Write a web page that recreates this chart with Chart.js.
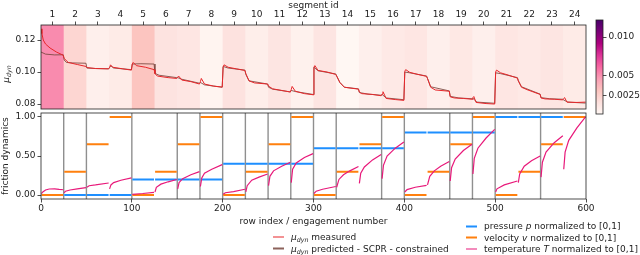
<!DOCTYPE html>
<html>
<head>
<meta charset="utf-8">
<script src="https://cdn.jsdelivr.net/npm/chart.js@4/dist/chart.umd.min.js"></script>
<style>
body { margin: 0; width: 640px; height: 255px; background: #fff; position: relative; overflow: hidden; font-family: "DejaVu Sans", sans-serif; font-size: 9px; color: #222; }
canvas { position: absolute; }
.t { position: absolute; white-space: nowrap; line-height: 1; }
.lg { position: absolute; display: flex; align-items: center; white-space: nowrap; transform: translateY(-50%); line-height: 1; }
.ln { display: inline-block; width: 11px; height: 1.6px; margin-right: 7px; }
.sub { font-size: 6.3px; font-style: italic; position: relative; top: 2px; }
.mu { font-style: italic; }
</style>
</head>
<body>
<canvas id="topChart" width="600" height="112" style="left:0;top:0"></canvas>
<canvas id="botChart" width="600" height="110" style="left:0;top:108px"></canvas>
<canvas id="cbChart" width="50" height="118" style="left:590px;top:0"></canvas>

<div class="t" style="left:313.5px;top:4.5px;transform:translate(-50%,-50%)">segment id</div>
<div class="t" style="left:313.5px;top:220.5px;transform:translate(-50%,-50%)">row index / engagement number</div>
<div class="t" style="left:6px;top:74px;transform:translate(-50%,-50%) rotate(-90deg)"><span class="mu">μ</span><span class="sub">dyn</span></div>
<div class="t" style="left:5px;top:156px;transform:translate(-50%,-50%) rotate(-90deg)">friction dynamics</div>
<div id="legend"></div>

<script>
// segments of 25 engagements each
const segIds = [1, 2, 3, 4, 5, 6, 7, 8, 9, 10, 11, 12, 13, 14, 15, 16, 17, 18, 19, 20, 21, 22, 23, 24];
const segLen = 25;
const rowMax = 600;

// per-segment error shown as background colour (colorbar)
const segErr = [0.0052, 0.0022, 0.0006, 0.0009, 0.0031, 0.0014, 0.0012, 0.0003, 0.0015, 0.0007, 0.0013, 0.0005,
                0.0013, 0.0001, 0.0006, 0.0010, 0.0012, 0.0006, 0.0011, 0.0006, 0.0012, 0.0010, 0.0013, 0.0009];
const cbMin = 0.0001, cbMax = 0.0122;
const cbTicks = [0.0025, 0.005, 0.010];
const cbLabels = ['0.0025', '0.005', '0.010'];

// operating conditions (normalized)
const pressure = [0, 0, 0, 0, 0.2, 0.2, 0.2, 0.2, 0.4, 0.4, 0.4, 0.4, 0.6, 0.6, 0.6, 0.6, 0.8, 0.8, 0.8, 0.8, 1, 1, 1, 1];
const velocity = [0, 0.3, 0.65, 1, 0, 0.3, 0.65, 1, 0, 0.3, 0.65, 1, 0, 0.3, 0.65, 1, 0, 0.3, 0.65, 1, 0, 0.3, 0.65, 1];

// segment boundaries marked in the lower panel
const vLines = [25, 50, 100, 150, 175, 200, 225, 250, 275, 300, 325, 375, 400, 450, 475, 500, 550];

const muTicks = [0.08, 0.10, 0.12];
const muMin = 0.0769, muMax = 0.1294;
const fdTicks = [0, 0.5, 1];

// mu_dyn measured [row, mu]
const muMeasured = [
  [0, 0.1270], [1, 0.1240], [2.5, 0.1200], [5, 0.1175], [10, 0.1150], [17, 0.1125], [24.5, 0.1105],
  [25.5, 0.1085], [30, 0.1060], [40, 0.1047], [49.5, 0.1035],
  [50.5, 0.1028], [60, 0.1022], [74.5, 0.1020],
  [75.5, 0.1028], [76.5, 0.1045], [79, 0.1030], [90, 0.1020], [99.5, 0.1012],
  [100.5, 0.1050], [101.5, 0.1060], [105, 0.1040], [115, 0.1030], [124.5, 0.1015],
  [125.5, 0.0990], [128, 0.0975], [140, 0.0965], [149.5, 0.0960],
  [150.5, 0.0968], [151.5, 0.0975], [155, 0.0950], [165, 0.0940], [174.5, 0.0925],
  [175.5, 0.0940], [176.5, 0.0960], [180, 0.0925], [190, 0.0912], [199.5, 0.0906],
  [200.5, 0.1030], [201.5, 0.1045], [206, 0.1030], [215, 0.1020], [224.5, 0.1010],
  [225.5, 0.0990], [229, 0.0945], [235, 0.0932], [249.5, 0.0925],
  [250.5, 0.0912], [255, 0.0895], [265, 0.0885], [274.5, 0.0875],
  [275.5, 0.0890], [276.5, 0.0910], [280, 0.0880], [290, 0.0865], [299.5, 0.0858],
  [300.5, 0.1030], [301.5, 0.1040], [305, 0.1010], [315, 0.1000], [324.5, 0.0985],
  [325.5, 0.0975], [329, 0.0935], [334, 0.0905], [349.5, 0.0893],
  [350.5, 0.0875], [353, 0.0865], [365, 0.0860], [374.5, 0.0852],
  [375.5, 0.0862], [376.5, 0.0877], [380, 0.0835], [390, 0.0828], [399.5, 0.0823],
  [400.5, 0.1005], [401.5, 0.1015], [406, 0.0998], [415, 0.0985], [424.5, 0.0973],
  [425.5, 0.0960], [429, 0.0905], [434, 0.0888], [449.5, 0.0880],
  [450.5, 0.0845], [455, 0.0838], [465, 0.0835], [474.5, 0.0830],
  [475.5, 0.0840], [476.5, 0.0847], [479, 0.0810], [490, 0.0803], [499.5, 0.0800],
  [500.5, 0.1000], [501.5, 0.1012], [506, 0.0995], [515, 0.0980], [524.5, 0.0962],
  [525.5, 0.0945], [529, 0.0905], [535, 0.0890], [549.5, 0.0860],
  [550.5, 0.0838], [555, 0.0832], [565, 0.0830], [574.5, 0.0826],
  [575.5, 0.0835], [576.5, 0.0840], [579, 0.0812], [590, 0.0810], [599.5, 0.0812]
];

// mu_dyn predicted (SCPR, constrained) [row, mu]
const muPredicted = [
  [0, 0.1125], [5, 0.1112], [15, 0.1107], [24.5, 0.1108],
  [25.5, 0.1075], [28, 0.1060], [35, 0.1057], [49.5, 0.1055],
  [50.5, 0.1025], [60, 0.1022], [74.5, 0.1020],
  [75.5, 0.1030], [77, 0.1038], [80, 0.1025], [99.5, 0.1015],
  [100.5, 0.1050], [110, 0.1052], [124.5, 0.1050],
  [125.5, 0.0992], [130, 0.0980], [149.5, 0.0965],
  [150.5, 0.0965], [155, 0.0955], [174.5, 0.0930],
  [175.5, 0.0935], [180, 0.0920], [199.5, 0.0905],
  [200.5, 0.1035], [206, 0.1025], [224.5, 0.1012],
  [225.5, 0.0985], [229, 0.0945], [249.5, 0.0925],
  [250.5, 0.0905], [255, 0.0893], [274.5, 0.0876],
  [275.5, 0.0885], [280, 0.0878], [299.5, 0.0860],
  [300.5, 0.1030], [305, 0.1008], [324.5, 0.0988],
  [325.5, 0.0975], [329, 0.0935], [334, 0.0905], [349.5, 0.0895],
  [350.5, 0.0872], [360, 0.0862], [374.5, 0.0855],
  [375.5, 0.0860], [380, 0.0838], [399.5, 0.0827],
  [400.5, 0.1000], [406, 0.0995], [424.5, 0.0975],
  [425.5, 0.0960], [429, 0.0908], [449.5, 0.0882],
  [450.5, 0.0848], [460, 0.0838], [474.5, 0.0833],
  [475.5, 0.0835], [480, 0.0812], [499.5, 0.0805],
  [500.5, 0.0995], [506, 0.0990], [524.5, 0.0965],
  [525.5, 0.0945], [529, 0.0908], [549.5, 0.0862],
  [550.5, 0.0840], [560, 0.0833], [574.5, 0.0830],
  [575.5, 0.0825], [580, 0.0812], [599.5, 0.0806]
];

// temperature normalized, one curve per segment [row, T]
const tempCurves = [
  [[0.5, 0.02], [2, 0.04], [5, 0.065], [9, 0.078], [15, 0.08], [20, 0.072], [24.5, 0.068]],
  [[25.5, 0.03], [27, 0.05], [32, 0.065], [40, 0.08], [49.5, 0.095]],
  [[50.5, 0.10], [53, 0.12], [60, 0.13], [74.5, 0.155]],
  [[75.5, 0.08], [77, 0.13], [80, 0.16], [88, 0.19], [99.5, 0.22]],
  [[100.5, 0.01], [112, 0.02], [124.5, 0.035]],
  [[125.5, 0.04], [127, 0.10], [132, 0.14], [140, 0.17], [149.5, 0.20]],
  [[150.5, 0.08], [152, 0.16], [156, 0.21], [165, 0.26], [174.5, 0.30]],
  [[175.5, 0.11], [177, 0.22], [180, 0.28], [188, 0.33], [199.5, 0.39]],
  [[200.5, 0.01], [203, 0.03], [212, 0.045], [224.5, 0.075]],
  [[225.5, 0.04], [227, 0.12], [232, 0.19], [240, 0.23], [249.5, 0.27]],
  [[250.5, 0.12], [252, 0.24], [256, 0.31], [265, 0.37], [274.5, 0.42]],
  [[275.5, 0.16], [277, 0.33], [281, 0.41], [290, 0.48], [299.5, 0.53]],
  [[300.5, 0.02], [303, 0.05], [310, 0.075], [324.5, 0.11]],
  [[325.5, 0.10], [328, 0.20], [333, 0.26], [340, 0.31], [349.5, 0.365]],
  [[350.5, 0.15], [352, 0.28], [356, 0.36], [365, 0.45], [374.5, 0.52]],
  [[375.5, 0.21], [377, 0.38], [381, 0.50], [390, 0.60], [399.5, 0.68]],
  [[400.5, 0.04], [403, 0.07], [412, 0.10], [424.5, 0.125]],
  [[425.5, 0.13], [428, 0.24], [433, 0.31], [440, 0.37], [449.5, 0.43]],
  [[450.5, 0.18], [452, 0.35], [456, 0.46], [465, 0.57], [474.5, 0.65]],
  [[475.5, 0.27], [477, 0.47], [481, 0.60], [490, 0.73], [499.5, 0.84]],
  [[500.5, 0.04], [502, 0.08], [510, 0.13], [524.5, 0.18]],
  [[525.5, 0.16], [527, 0.27], [532, 0.37], [540, 0.44], [549.5, 0.50]],
  [[550.5, 0.23], [552, 0.42], [556, 0.55], [565, 0.67], [574.5, 0.76]],
  [[575.5, 0.33], [577, 0.55], [581, 0.70], [590, 0.86], [599.5, 1.00]]
];

const colMeasured = '#e8262a';
const colPredicted = 'rgba(120,70,62,0.85)';
const colP = '#1e8fff';
const colV = '#ff800e';
const colT = '#e8197a';

Chart.defaults.font.family = '"DejaVu Sans", sans-serif';
Chart.defaults.font.size = 9;
Chart.defaults.color = '#222';

// RdPu colormap
const rdpu = ['#fff7f3', '#fde0dd', '#fcc5c0', '#fa9fb5', '#f768a1', '#dd3497', '#ae017e', '#7a0177', '#49006a'];
function hexRgb(h) { return [1, 3, 5].map(i => parseInt(h.substr(i, 2), 16)); }
function cmap(t) {
    t = Math.max(0, Math.min(1, t));
    const p = t * 8, i = Math.min(7, Math.floor(p)), f = p - i;
    const a = hexRgb(rdpu[i]), b = hexRgb(rdpu[i + 1]);
    return 'rgb(' + a.map((v, k) => Math.round(v + (b[k] - v) * f)).join(',') + ')';
}
const errColor = e => cmap((e - cbMin) / (cbMax - cbMin));

const pts = arr => arr.map(([x, y]) => ({ x, y }));

function stepLine(levels) {
    const out = [];
    levels.forEach((v, i) => {
        out.push({ x: i * segLen + 0.6, y: v }, { x: (i + 1) * segLen - 0.6, y: v }, { x: (i + 1) * segLen, y: null });
    });
    return out;
}
function joinCurves(list) {
    const out = [];
    list.forEach((seg, i) => {
        seg.forEach(([x, y]) => out.push({ x, y }));
        out.push({ x: (i + 1) * segLen, y: null });
    });
    return out;
}

const frame = {
    id: 'frame',
    afterDatasetsDraw(c) {
        const a = c.chartArea, ctx = c.ctx;
        ctx.save();
        ctx.strokeStyle = '#222';
        ctx.lineWidth = 0.8;
        ctx.strokeRect(a.left, a.top, a.right - a.left, a.bottom - a.top);
        ctx.restore();
    }
};

const bands = {
    id: 'bands',
    beforeDatasetsDraw(c) {
        const a = c.chartArea, xs = c.scales.x, ctx = c.ctx;
        ctx.save();
        segErr.forEach((e, i) => {
            const x0 = xs.getPixelForValue(i * segLen), x1 = xs.getPixelForValue((i + 1) * segLen);
            ctx.fillStyle = errColor(e);
            ctx.fillRect(x0, a.top, x1 - x0 + (i < segErr.length - 1 ? 0.5 : 0), a.bottom - a.top);
        });
        ctx.restore();
    }
};

const segLines = {
    id: 'segLines',
    beforeDatasetsDraw(c) {
        const a = c.chartArea, xs = c.scales.x, ctx = c.ctx;
        ctx.save();
        ctx.strokeStyle = '#8f8f8f';
        ctx.lineWidth = 1.4;
        vLines.forEach(v => {
            const x = xs.getPixelForValue(v);
            ctx.beginPath();
            ctx.moveTo(x, a.top);
            ctx.lineTo(x, a.bottom);
            ctx.stroke();
        });
        ctx.restore();
    }
};

const cbFill = {
    id: 'cbFill',
    beforeDatasetsDraw(c) {
        const a = c.chartArea, ys = c.scales.y, ctx = c.ctx;
        const g = ctx.createLinearGradient(0, ys.getPixelForValue(cbMin), 0, ys.getPixelForValue(cbMax));
        rdpu.forEach((col, k) => g.addColorStop(k / 8, col));
        ctx.save();
        ctx.fillStyle = g;
        ctx.fillRect(a.left, a.top, a.right - a.left, a.bottom - a.top);
        ctx.restore();
    }
};

const tickGrid = { drawOnChartArea: false, drawTicks: true, tickLength: 3.5, color: '#222', lineWidth: 0.8 };
const base = {
    animation: false,
    responsive: false,
    events: [],
    plugins: { legend: { display: false }, tooltip: { enabled: false } }
};

// upper panel: friction coefficient
new Chart(document.getElementById('topChart'), {
    type: 'scatter',
    data: {
        datasets: [
            { data: pts(muMeasured), showLine: true, borderColor: colMeasured, borderWidth: 1, pointRadius: 0, order: 0 },
            { data: pts(muPredicted), showLine: true, borderColor: colPredicted, borderWidth: 1, pointRadius: 0, order: 1 }
        ]
    },
    options: {
        ...base,
        layout: { padding: { left: 0, right: 14, top: 0, bottom: 3 } },
        scales: {
            x: { type: 'linear', display: false, min: 0, max: rowMax },
            x2: {
                type: 'linear', position: 'top', min: 0, max: rowMax,
                afterBuildTicks: s => { s.ticks = segIds.map((id, i) => ({ value: (i + 0.5) * segLen })); },
                afterFit: s => { s.height = 25; s.paddingLeft = 0; s.paddingRight = 0; },
                ticks: { autoSkip: false, maxRotation: 0, padding: 1, callback: (v, i) => String(segIds[i]) },
                grid: tickGrid,
                border: { display: false }
            },
            y: {
                min: muMin, max: muMax,
                afterBuildTicks: s => { s.ticks = muTicks.map(v => ({ value: v })); },
                afterFit: s => { s.width = 41; s.paddingTop = 0; s.paddingBottom = 0; },
                ticks: { padding: 2, callback: v => v.toFixed(2) },
                grid: tickGrid,
                border: { display: false }
            }
        }
    },
    plugins: [bands, frame]
});

// lower panel: operating conditions
new Chart(document.getElementById('botChart'), {
    type: 'scatter',
    data: {
        datasets: [
            { data: stepLine(pressure), showLine: true, spanGaps: false, borderColor: colP, borderWidth: 2, pointRadius: 0, order: 2 },
            { data: stepLine(velocity), showLine: true, spanGaps: false, borderColor: colV, borderWidth: 2, pointRadius: 0, order: 1 },
            { data: joinCurves(tempCurves), showLine: true, spanGaps: false, borderColor: colT, borderWidth: 1.2, pointRadius: 0, order: 0 }
        ]
    },
    options: {
        ...base,
        layout: { padding: { left: 0, right: 14, top: 5, bottom: 0 } },
        scales: {
            x: {
                type: 'linear', min: 0, max: rowMax,
                afterFit: s => { s.height = 19; s.paddingLeft = 0; s.paddingRight = 0; },
                ticks: { stepSize: 100, padding: 1, maxRotation: 0 },
                grid: tickGrid,
                border: { display: false }
            },
            y: {
                min: -0.05, max: 1.05,
                afterBuildTicks: s => { s.ticks = fdTicks.map(v => ({ value: v })); },
                afterFit: s => { s.width = 41; s.paddingTop = 0; s.paddingBottom = 0; },
                ticks: { padding: 2, callback: v => v.toFixed(2) },
                grid: tickGrid,
                border: { display: false }
            }
        }
    },
    plugins: [segLines, frame]
});

// colorbar
new Chart(document.getElementById('cbChart'), {
    type: 'scatter',
    data: { datasets: [{ data: [] }] },
    options: {
        ...base,
        layout: { padding: { left: 6, right: 0, top: 20, bottom: 4 } },
        scales: {
            x: { type: 'linear', display: false, min: 0, max: 1 },
            y: {
                position: 'right', min: cbMin, max: cbMax,
                afterBuildTicks: s => { s.ticks = cbTicks.map(v => ({ value: v })); },
                afterFit: s => { s.width = 37; s.paddingTop = 0; s.paddingBottom = 0; },
                ticks: { padding: 2, callback: (v, i) => cbLabels[i] },
                grid: tickGrid,
                border: { display: false }
            }
        }
    },
    plugins: [cbFill, frame]
});

// legend
const mu = '<span class="mu">μ</span><span class="sub">dyn</span>';
const legendItems = [
    { left: 273, top: 237, color: colMeasured, h: 1.6, label: mu + ' measured' },
    { left: 273, top: 248.5, color: colPredicted, h: 1.6, label: mu + ' predicted - SCPR - constrained' },
    { left: 466, top: 226, color: colP, h: 2, label: 'pressure <i>p</i> normalized to [0,1]' },
    { left: 466, top: 237.5, color: colV, h: 2, label: 'velocity <i>v</i> normalized to [0,1]' },
    { left: 466, top: 249, color: colT, h: 1.6, label: 'temperature <i>T</i> normalized to [0,1]' }
];
const legend = document.getElementById('legend');
legendItems.forEach(it => {
    const d = document.createElement('div');
    d.className = 'lg';
    d.style.left = it.left + 'px';
    d.style.top = it.top + 'px';
    d.innerHTML = `<span class="ln" style="background:${it.color};height:${it.h}px"></span><span>${it.label}</span>`;
    legend.appendChild(d);
});
</script>
</body>
</html>
